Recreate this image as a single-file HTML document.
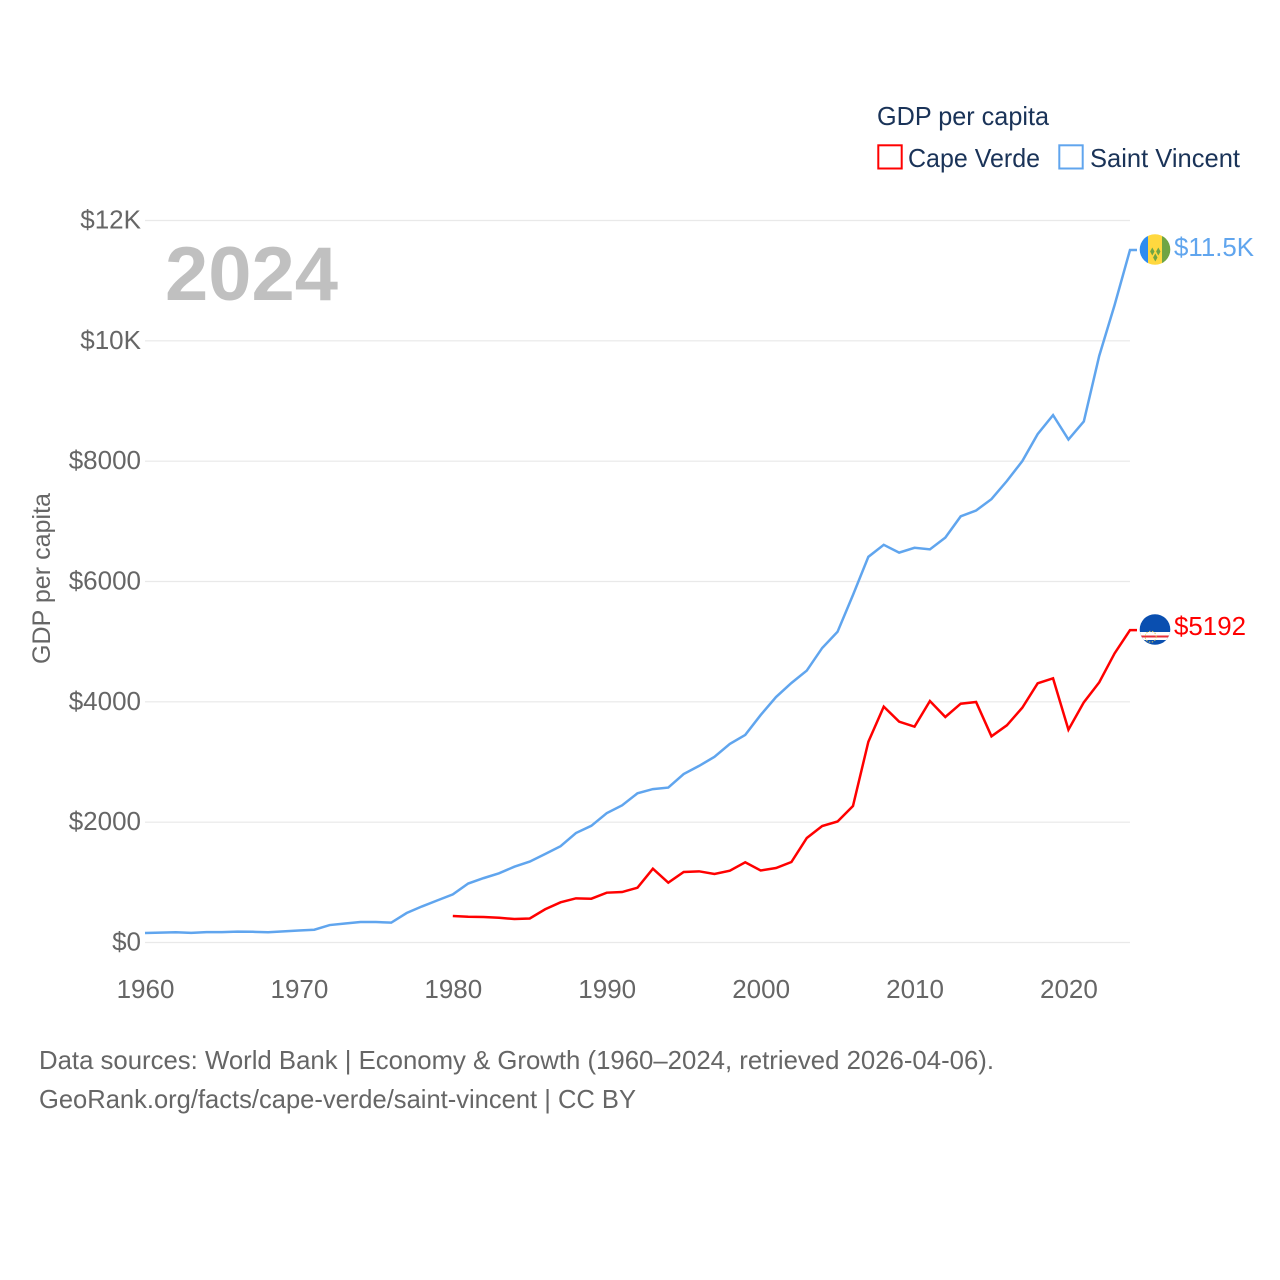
<!DOCTYPE html>
<html lang="en">
<head>
<meta charset="utf-8">
<title>GDP per capita: Cape Verde and Saint Vincent</title>
<style>
html,body{margin:0;padding:0;background:#fff;width:1280px;height:1280px;overflow:hidden}
svg{display:block}
text{font-family:"Liberation Sans",sans-serif}
</style>
</head>
<body>
<svg id="chart" width="1280" height="1280" viewBox="0 0 1280 1280" xmlns="http://www.w3.org/2000/svg">
  <defs>
    <clipPath id="flag-clip-sv"><circle cx="1155" cy="249.500" r="15.300"/></clipPath>
    <clipPath id="flag-clip-cv"><circle cx="1155" cy="629.500" r="15.300"/></clipPath>
  </defs>
  <g id="grid"></g>
  <g id="yticks"></g>
  <g id="xticks"></g>

  <text x="165" y="300" font-size="76" font-weight="700" fill="#c0c0c0" textLength="173" lengthAdjust="spacingAndGlyphs">2024</text>
  <text transform="translate(50,664) rotate(-90)" font-size="25" fill="#666666" textLength="171" lengthAdjust="spacingAndGlyphs">GDP per capita</text>

  <g id="series"></g>

  <g>
    <text x="877" y="125" font-size="26" fill="#1a3358" textLength="172" lengthAdjust="spacingAndGlyphs">GDP per capita</text>
    <g>
      <rect x="878.300" y="145.300" width="23.400" height="23.200" fill="none" stroke="#ff0000" stroke-width="2"/>
      <text x="908" y="167" font-size="26" fill="#1a3358" textLength="132" lengthAdjust="spacingAndGlyphs">Cape Verde</text>
    </g>
    <g>
      <rect x="1059.300" y="145.300" width="23.400" height="23.200" fill="none" stroke="#60a5ee" stroke-width="2"/>
      <text x="1090" y="167" font-size="26" fill="#1a3358" textLength="150" lengthAdjust="spacingAndGlyphs">Saint Vincent</text>
    </g>
  </g>

  <g clip-path="url(#flag-clip-sv)">
    <rect x="1139" y="233" width="9" height="33" fill="#2e8cf0"/>
    <rect x="1148" y="233" width="14" height="33" fill="#ffd83f"/>
    <rect x="1162" y="233" width="9" height="33" fill="#6fa544"/>
    <path d="M1152.300 247.500l2.200 4 -2.200 4 -2.200 -4zM1158.300 247.500l2.200 4 -2.200 4 -2.200 -4zM1155.300 253.500l2.200 4 -2.200 4 -2.200 -4z" fill="#6fa544"/>
  </g>
  <g clip-path="url(#flag-clip-cv)">
    <rect x="1139" y="613" width="33" height="33" fill="#0a4fb0"/>
    <rect x="1139" y="632" width="33" height="8" fill="#ffffff"/>
    <rect x="1139" y="635.500" width="33" height="2" fill="#e8303a"/>
    <circle cx="1150.700" cy="636.700" r="5.500" fill="none" stroke="#d8c860" stroke-width="1" stroke-dasharray="1.500 1.500"/>
  </g>

  <text x="1174" y="256" font-size="26" fill="#60a5ee" textLength="80" lengthAdjust="spacingAndGlyphs">$11.5K</text>
  <text x="1174" y="635" font-size="26" fill="#ff0000" textLength="72" lengthAdjust="spacingAndGlyphs">$5192</text>

  <g>
    <text x="39" y="1069" font-size="26" fill="#666666" textLength="955" lengthAdjust="spacingAndGlyphs">Data sources: World Bank | Economy &amp; Growth (1960–2024, retrieved 2026-04-06).</text>
    <text x="39" y="1108" font-size="26" fill="#666666" textLength="597" lengthAdjust="spacingAndGlyphs">GeoRank.org/facts/cape-verde/saint-vincent | CC BY</text>
  </g>
</svg>
<script>
const yTickValues = [0, 2000, 4000, 6000, 8000, 10000, 12000];
const yTickLabels = ["$0", "$2000", "$4000", "$6000", "$8000", "$10K", "$12K"];
const xTickYears = [1960, 1970, 1980, 1990, 2000, 2010, 2020];
const saintVincentStartYear = 1960;
const saintVincentValues = [158,165,170,160,172,172,180,178,170,185,200,212,290,315,340,340,330,490,600,700,800,980,1070,1150,1260,1345,1470,1600,1820,1940,2150,2280,2480,2550,2575,2800,2935,3085,3300,3450,3780,4080,4313,4520,4895,5165,5775,6410,6610,6480,6560,6535,6730,7083,7180,7370,7670,8000,8450,8765,8360,8660,9750,10595,11510];
const capeVerdeStartYear = 1980;
const capeVerdeValues = [440,428,424,412,390,399,552,668,734,728,828,839,911,1227,994,1172,1183,1138,1193,1333,1197,1238,1338,1737,1936,2011,2268,3337,3920,3670,3587,4014,3748,3969,3997,3427,3610,3902,4307,4390,3537,3992,4324,4806,5192];

const SVG_NS = "http://www.w3.org/2000/svg";
const xScale = function (year) { return 145 + (year - 1960) * (1130 - 145) / 64; };
const yScale = function (value) { return 942.5 - value * (942.5 - 220.5) / 12000; };

const grid = document.getElementById("grid");
const yticks = document.getElementById("yticks");
const xticks = document.getElementById("xticks");
const seriesGroup = document.getElementById("series");

yTickValues.forEach(function (value, i) {
  const line = document.createElementNS(SVG_NS, "line");
  
  
  line.setAttribute("x1", 145);
  line.setAttribute("x2", 1130);
  line.setAttribute("y1", yScale(value));
  line.setAttribute("y2", yScale(value));
  line.setAttribute("stroke", "#e9e9e9");
  line.setAttribute("stroke-width", 1.2);
  grid.appendChild(line);

  const label = document.createElementNS(SVG_NS, "text");
  
  
  label.setAttribute("x", 141);
  label.setAttribute("y", yScale(value) + 8);
  label.setAttribute("text-anchor", "end");
  label.setAttribute("font-size", 26);
  label.setAttribute("fill", "#666666");
  label.textContent = yTickLabels[i];
  yticks.appendChild(label);
});

xTickYears.forEach(function (year) {
  const label = document.createElementNS(SVG_NS, "text");
  
  
  label.setAttribute("x", xScale(year) + 0.5);
  label.setAttribute("y", 998);
  label.setAttribute("text-anchor", "middle");
  label.setAttribute("font-size", 26);
  label.setAttribute("fill", "#666666");
  label.textContent = String(year);
  xticks.appendChild(label);
});

function buildPoints(startYear, values) {
  const pts = values.map(function (value, i) {
    return xScale(startYear + i).toFixed(2) + "," + yScale(value).toFixed(2);
  });
  const last = values[values.length - 1];
  pts.push((xScale(startYear + values.length - 1) + 7).toFixed(2) + "," + yScale(last).toFixed(2));
  return pts.join(" ");
}

const capeVerdeLine = document.createElementNS(SVG_NS, "polyline");


capeVerdeLine.setAttribute("points", buildPoints(capeVerdeStartYear, capeVerdeValues));
capeVerdeLine.setAttribute("fill", "none");
capeVerdeLine.setAttribute("stroke", "#ff0000");
capeVerdeLine.setAttribute("stroke-width", 2.5);
seriesGroup.appendChild(capeVerdeLine);

const saintVincentLine = document.createElementNS(SVG_NS, "polyline");


saintVincentLine.setAttribute("points", buildPoints(saintVincentStartYear, saintVincentValues));
saintVincentLine.setAttribute("fill", "none");
saintVincentLine.setAttribute("stroke", "#60a5ee");
saintVincentLine.setAttribute("stroke-width", 2.5);
seriesGroup.appendChild(saintVincentLine);
</script>
</body>
</html>
